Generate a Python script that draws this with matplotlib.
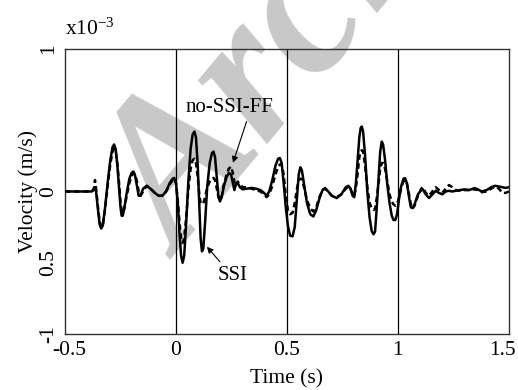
import matplotlib
matplotlib.use("Agg")
import matplotlib.pyplot as plt
import matplotlib.transforms as mtransforms

plt.rcParams['font.family'] = ['Liberation Serif', 'DejaVu Serif']
plt.rcParams['mathtext.fontset'] = 'custom'
plt.rcParams['mathtext.rm'] = 'Liberation Serif'
plt.rcParams['mathtext.it'] = 'Liberation Serif:italic'

# ---- data (velocity in 1e-3 m/s) ----
time_s = [-0.500, -0.380, -0.370, -0.365, -0.360, -0.352, -0.344, -0.337, -0.330, -0.320,
          -0.308, -0.296, -0.286, -0.279, -0.272, -0.264, -0.256, -0.250, -0.245, -0.240,
          -0.233, -0.222, -0.210, -0.200, -0.192, -0.184, -0.176, -0.168, -0.160, -0.148,
          -0.132, -0.115, -0.095, -0.078, -0.062, -0.045, -0.028, -0.015, -0.008, 0.000,
          0.008, 0.016, 0.023, 0.030, 0.037, 0.046, 0.056, 0.066, 0.075, 0.083,
          0.090, 0.098, 0.105, 0.111, 0.117, 0.123, 0.131, 0.141, 0.152, 0.162,
          0.169, 0.176, 0.184, 0.191, 0.198, 0.206, 0.216, 0.228, 0.238, 0.248,
          0.256, 0.263, 0.270, 0.278, 0.288, 0.300, 0.320, 0.340, 0.360, 0.380,
          0.397, 0.408, 0.420, 0.434, 0.448, 0.460, 0.468, 0.476, 0.485, 0.494,
          0.504, 0.514, 0.525, 0.535, 0.545, 0.553, 0.560, 0.567, 0.577, 0.590,
          0.605, 0.619, 0.632, 0.646, 0.660, 0.672, 0.686, 0.702, 0.724, 0.745,
          0.765, 0.777, 0.786, 0.796, 0.803, 0.810, 0.818, 0.826, 0.832, 0.837,
          0.843, 0.852, 0.862, 0.872, 0.882, 0.890, 0.897, 0.905, 0.913, 0.920,
          0.927, 0.933, 0.942, 0.952, 0.962, 0.972, 0.980, 0.988, 0.996, 1.005,
          1.015, 1.025, 1.032, 1.040, 1.050, 1.058, 1.065, 1.075, 1.090, 1.105,
          1.112, 1.125, 1.140, 1.155, 1.170, 1.185, 1.200, 1.215, 1.230, 1.245,
          1.260, 1.280, 1.300, 1.320, 1.345, 1.360, 1.377, 1.400, 1.420, 1.437,
          1.455, 1.470, 1.485, 1.500]

vel_ssi = [0.0, 0.0, 0.01, 0.03, 0.0, -0.12, -0.23, -0.26, -0.24, -0.12,
           0.06, 0.22, 0.31, 0.33, 0.30, 0.18, 0.02, -0.11, -0.17, -0.17,
           -0.12, -0.01, 0.09, 0.13, 0.14, 0.11, 0.04, -0.03, -0.03, 0.02,
           0.04, 0.02, -0.01, -0.03, -0.03, 0.0, 0.06, 0.09, 0.095, 0.06,
           -0.08, -0.30, -0.45, -0.50, -0.45, -0.22, 0.08, 0.30, 0.40, 0.42,
           0.38, 0.18, -0.10, -0.33, -0.42, -0.40, -0.22, 0.04, 0.20, 0.27,
           0.28, 0.24, 0.10, -0.03, -0.07, -0.04, 0.04, 0.10, 0.13, 0.12,
           0.06, 0.01, 0.05, 0.06, 0.03, 0.015, 0.02, 0.025, 0.02, 0.01,
           -0.01, -0.03, 0.0, 0.08, 0.18, 0.23, 0.235, 0.20, 0.06, -0.10,
           -0.24, -0.31, -0.315, -0.25, -0.05, 0.12, 0.17, 0.15, 0.05, -0.08,
           -0.16, -0.175, -0.13, -0.05, 0.01, 0.024, 0.0, -0.03, -0.046, -0.02,
           0.03, 0.04, 0.02, -0.03, -0.04, 0.05, 0.22, 0.38, 0.445, 0.456,
           0.42, 0.25, 0.0, -0.18, -0.28, -0.30, -0.28, -0.10, 0.10, 0.28,
           0.35, 0.33, 0.22, 0.05, -0.08, -0.17, -0.20, -0.20, -0.16, -0.05,
           0.04, 0.09, 0.094, 0.06, -0.04, -0.11, -0.117, -0.09, -0.02, 0.01,
           0.015, -0.02, -0.046, -0.02, 0.005, -0.01, -0.02, 0.0, 0.005, 0.0,
           0.005, 0.01, 0.015, 0.01, 0.024, 0.015, 0.0, 0.01, 0.03, 0.04,
           0.035, 0.03, 0.025, 0.03]

vel_noff = [0.0, 0.0, 0.02, 0.08, 0.02, -0.10, -0.21, -0.25, -0.24, -0.13,
            0.04, 0.19, 0.28, 0.30, 0.29, 0.19, 0.05, -0.07, -0.13, -0.15,
            -0.12, -0.03, 0.06, 0.11, 0.13, 0.12, 0.07, 0.0, -0.03, 0.0,
            0.04, 0.02, -0.01, -0.03, -0.03, 0.0, 0.05, 0.08, 0.09, 0.06,
            -0.06, -0.22, -0.33, -0.36, -0.33, -0.18, 0.02, 0.16, 0.22, 0.23,
            0.20, 0.10, -0.02, -0.08, -0.09, -0.085, -0.04, 0.03, 0.07, 0.09,
            0.095, 0.08, 0.02, -0.04, -0.06, -0.03, 0.05, 0.12, 0.16, 0.175,
            0.13, 0.07, 0.04, 0.07, 0.05, 0.03, 0.03, 0.02, 0.01, 0.0,
            -0.02, -0.04, -0.02, 0.04, 0.12, 0.17, 0.19, 0.19, 0.12, -0.02,
            -0.13, -0.16, -0.15, -0.08, 0.02, 0.08, 0.09, 0.085, 0.03, -0.06,
            -0.12, -0.14, -0.11, -0.04, 0.01, 0.02, 0.0, -0.03, -0.04, -0.02,
            0.02, 0.035, 0.02, -0.02, -0.03, 0.02, 0.12, 0.24, 0.28, 0.29,
            0.28, 0.18, 0.03, -0.08, -0.12, -0.13, -0.12, -0.04, 0.06, 0.16,
            0.20, 0.20, 0.16, 0.07, -0.02, -0.07, -0.09, -0.10, -0.09, -0.04,
            0.03, 0.07, 0.08, 0.06, -0.02, -0.09, -0.12, -0.10, -0.03, 0.02,
            0.03, -0.01, -0.03, 0.0, 0.03, 0.01, -0.01, 0.02, 0.045, 0.03,
            0.01, 0.005, 0.01, 0.01, 0.015, 0.01, -0.005, 0.0, 0.02, 0.035,
            0.02, -0.01, -0.01, 0.0]

x_ticks = [-0.5, 0, 0.5, 1, 1.5]
x_ticklabels = ['-0.5', '0', '0.5', '1', '1.5']
y_ticks = [-1, -0.5, 0, 1]
y_ticklabels = ['-1', '0.5', '0', '1']
grid_times = [0, 0.5, 1]

fig = plt.figure(figsize=(5.18, 3.90), dpi=100)
ax = fig.add_axes([0.1255, 0.1436, 0.857, 0.7308])

# watermark (behind the curves)
ax.text(0.35, 0.335, 'Archive', transform=fig.transFigure, fontsize=148,
        fontweight='bold', fontstyle='italic', color='#c8c8c8', rotation=50,
        rotation_mode='anchor', ha='left', va='baseline', zorder=0.5, clip_on=False)

for g in grid_times:
    ax.axvline(g, color='black', lw=0.9, zorder=1)

ax.plot(time_s, vel_noff, color='black', lw=1.8, dashes=(2.2, 1.4), zorder=3)
ax.plot(time_s, vel_ssi, color='black', lw=1.8, zorder=4)

ax.set_xlim(-0.5, 1.5)
ax.set_ylim(-1, 1)
ax.set_xticks(x_ticks)
ax.set_xticklabels(x_ticklabels)
ax.set_yticks(y_ticks)
ax.set_yticklabels(y_ticklabels, rotation=90, va='center')
ax.tick_params(length=0, labelsize=15.5, pad=5)
xl = ax.get_xticklabels()
xl[0].set_transform(xl[0].get_transform() + mtransforms.ScaledTranslation(4 / 100, 0, fig.dpi_scale_trans))
xl[-1].set_transform(xl[-1].get_transform() + mtransforms.ScaledTranslation(-6 / 100, 0, fig.dpi_scale_trans))
for s in ax.spines.values():
    s.set_color('#333333')
    s.set_linewidth(1.0)

ax.set_xlabel('Time (s)', fontsize=15.5, labelpad=7)
ax.set_ylabel('Velocity (m/s)', fontsize=15.5, labelpad=1)

fig.text(0.125, 1 - 29 / 390, r'x10$^{\mathrm{-3}}$', fontsize=15.5, va='center', ha='left')

# annotations: labels and arrows
ax.text(0.243, 0.587, 'no-SSI-FF', fontsize=15, ha='center', va='center', zorder=5)
ax.annotate('', xy=(0.2568, 0.2014), xytext=(0.318, 0.491),
            arrowprops=dict(arrowstyle='-|>', lw=0.8, color='black', mutation_scale=9,
                            shrinkA=0, shrinkB=0), zorder=5)
ax.text(0.2545, -0.587, 'SSI', fontsize=15, ha='center', va='center', zorder=5)
ax.annotate('', xy=(0.1396, -0.388), xytext=(0.198, -0.493),
            arrowprops=dict(arrowstyle='-|>', lw=0.8, color='black', mutation_scale=9,
                            shrinkA=0, shrinkB=0), zorder=5)

fig.savefig('out.png', dpi=100)
